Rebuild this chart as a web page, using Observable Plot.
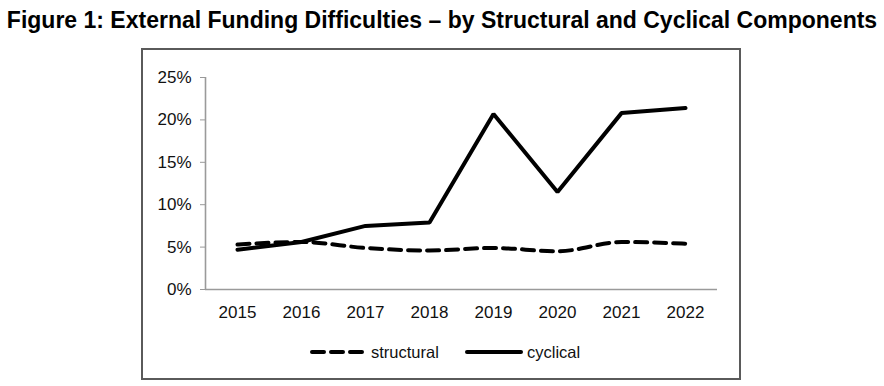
<!DOCTYPE html>
<html>
<head>
<meta charset="utf-8">
<script src="https://cdn.jsdelivr.net/npm/d3@7"></script>
<script src="https://cdn.jsdelivr.net/npm/@observablehq/plot@0.6"></script>
<style>
  html, body { margin: 0; padding: 0; background: #fff; }
  body { width: 884px; height: 386px; position: relative; overflow: hidden; font-family: "Liberation Sans", Arial, sans-serif; }
  #title { position: absolute; left: 0; top: 7px; width: 884px; text-align: center; font-weight: bold; font-size: 23px; color: #000; white-space: nowrap; }
  #box { position: absolute; left: 141px; top: 48px; width: 600px; height: 332px; border: 2px solid #5a5a5a; box-sizing: border-box; }
  #chart { position: absolute; left: 0; top: 0; }
  #legend { position: absolute; left: 0; top: 291px; width: 596px; height: 22px; font-size: 16.5px; color: #111; }
  .item { position: absolute; top: 0; display: flex; align-items: center; height: 22px; }
  .item svg { display: block; }
</style>
</head>
<body>
<div id="title">Figure 1: External Funding Difficulties – by Structural and Cyclical Components</div>
<div id="box">
  <div id="chart"></div>
  <div id="legend"></div>
</div>
<script>
const years = [2015, 2016, 2017, 2018, 2019, 2020, 2021, 2022];
const structural = [0.053, 0.056, 0.049, 0.046, 0.049, 0.045, 0.056, 0.054];
const cyclical = [0.047, 0.056, 0.075, 0.079, 0.207, 0.115, 0.208, 0.214];
const yTicks = [0, 0.05, 0.10, 0.15, 0.20, 0.25];
const seriesNames = ["structural", "cyclical"];

const structData = years.map((y, i) => ({year: y, value: structural[i]}));
const cycData = years.map((y, i) => ({year: y, value: cyclical[i]}));

const plot = Plot.plot({
  width: 596,
  height: 280,
  marginLeft: 62,
  marginRight: 22,
  marginTop: 27,
  marginBottom: 41,
  style: { fontFamily: "'Liberation Sans', Arial, sans-serif", fontSize: "17px", color: "#111", background: "transparent" },
  x: { type: "linear", domain: [2014.5, 2022.5] },
  y: { domain: [0, 0.25] },
  marks: [
    Plot.axisY({ ticks: yTicks, tickFormat: d3.format(".0%"), tickSize: 5, tickPadding: 9, stroke: "#999", label: null, fontSize: 17 }),
    Plot.axisX({ ticks: years, tickFormat: d => String(d), tickSize: 0, tickPadding: 16, label: null, fontSize: 17 }),
    Plot.ruleX([2014.5], { y1: 0, y2: 0.25, stroke: "#9a9a9a", strokeWidth: 1.6 }),
    Plot.ruleY([0], { stroke: "#9a9a9a", strokeWidth: 1.6 }),
    Plot.line(structData, { x: "year", y: "value", stroke: "#000", strokeWidth: 4, strokeDasharray: "12,7", strokeLinecap: "round", curve: "monotone-x" }),
    Plot.line(cycData, { x: "year", y: "value", stroke: "#000", strokeWidth: 4, strokeLinecap: "round", strokeLinejoin: "miter" })
  ]
});
document.getElementById("chart").appendChild(plot);

// legend
const legend = document.getElementById("legend");
const items = [
  { name: seriesNames[0], left: 167, dash: "12,7" },
  { name: seriesNames[1], left: 322, dash: null }
];
items.forEach(it => {
  const div = document.createElement("div");
  div.className = "item";
  div.style.left = it.left + "px";
  const w = it.dash ? 58 : 62;
  const svg = d3.create("svg").attr("width", w).attr("height", 10);
  svg.append("line").attr("x1", 2).attr("x2", w - 6).attr("y1", 5).attr("y2", 5)
    .attr("stroke", "#000").attr("stroke-width", 4).attr("stroke-linecap", "round")
    .attr("stroke-dasharray", it.dash);
  div.appendChild(svg.node());
  const span = document.createElement("span");
  span.textContent = it.name;
  span.style.marginLeft = it.dash ? "3px" : "0px";
  div.appendChild(span);
  legend.appendChild(div);
});
</script>
</body>
</html>
